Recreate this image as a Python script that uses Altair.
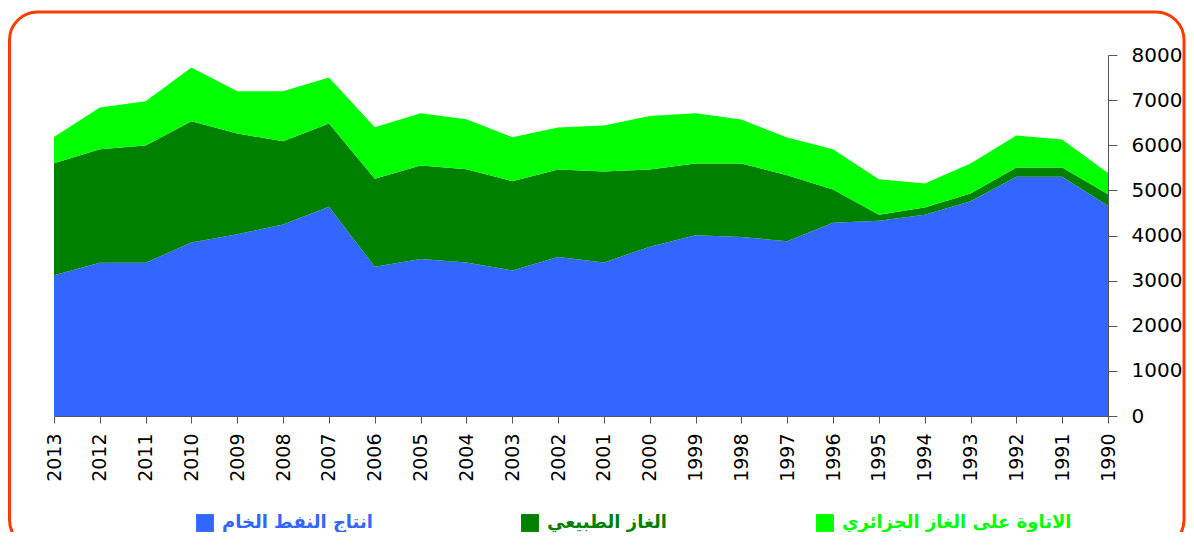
import altair as alt
import pandas as pd

years = [2013, 2012, 2011, 2010, 2009, 2008, 2007, 2006, 2005, 2004, 2003, 2002,
         2001, 2000, 1999, 1998, 1997, 1996, 1995, 1994, 1993, 1992, 1991, 1990]
oil = [3120, 3395, 3395, 3846, 4030, 4244, 4635, 3306, 3477, 3403, 3226, 3521,
       3403, 3750, 4008, 3964, 3875, 4281, 4325, 4458, 4761, 5300, 5300, 4657]
gas = [2480, 2517, 2599, 2686, 2230, 1845, 1846, 1949, 2074, 2066, 1978, 1941,
       2015, 1712, 1587, 1631, 1462, 738, 133, 163, 170, 207, 207, 259]
royalty = [585, 924, 981, 1189, 937, 1108, 1019, 1145, 1159, 1108, 974, 931,
           1018, 1188, 1114, 975, 834, 893, 790, 531, 664, 708, 620, 471]

series = ["انتاج النفط الخام", "الغاز الطبيعي", "الاتاوة على الغاز الجزائري"]
colors = ["#3366FF", "#008000", "#00FF00"]
y_ticks = [0, 1000, 2000, 3000, 4000, 5000, 6000, 7000, 8000]

rows = []
for i, yr in enumerate(years):
    for k, vals in enumerate([oil, gas, royalty]):
        rows.append({"year": yr, "series": series[k], "order": k, "value": vals[i]})
df = pd.DataFrame(rows)

W, H = 1054, 361

label_color_expr = (
    f"datum.value == '{series[0]}' ? '{colors[0]}' : "
    f"datum.value == '{series[1]}' ? '{colors[1]}' : '{colors[2]}'"
)

area = alt.Chart(df).mark_area(opacity=1, interpolate="linear").encode(
    x=alt.X(
        "year:Q",
        scale=alt.Scale(domain=[1990, 2013], reverse=True, nice=False, zero=False),
        axis=alt.Axis(
            values=years, format="d", labelAngle=-90, title=None, grid=False,
            domainColor="#555555", tickColor="#555555", tickSize=7,
            labelPadding=10, labelFontSize=19, labelFont="DejaVu Sans",
            labelColor="#000000",
        ),
    ),
    y=alt.Y(
        "value:Q", stack="zero",
        scale=alt.Scale(domain=[0, 8000], nice=False),
        axis=alt.Axis(
            orient="right", values=y_ticks, format="d", title=None, grid=False,
            domainColor="#555555", tickColor="#555555", tickSize=9,
            labelPadding=14, labelFontSize=20, labelFont="DejaVu Sans",
            labelColor="#000000",
        ),
    ),
    color=alt.Color(
        "series:N",
        scale=alt.Scale(domain=series, range=colors),
        legend=alt.Legend(
            orient="none", legendX=142, legendY=459, direction="horizontal",
            title=None, symbolType="square", symbolSize=320, symbolOpacity=1,
            symbolStrokeWidth=0, labelFontSize=18, labelFontWeight="bold",
            labelFont="DejaVu Sans", labelColor={"expr": label_color_expr},
            columnPadding=148, labelOffset=8, labelLimit=400,
        ),
    ),
    order=alt.Order("order:Q"),
)

frame = alt.Chart(pd.DataFrame({"a": [0]})).mark_rect(
    filled=False, stroke="#FF3C00", strokeWidth=3, cornerRadius=28
).encode(
    x=alt.value(-44.5), x2=alt.value(1130), y=alt.value(-43), y2=alt.value(493)
)

chart = alt.layer(area, frame).properties(
    width=W, height=H,
    padding={"left": 46, "top": 47, "right": 78, "bottom": 116},
    autosize=alt.AutoSizeParams(type="none"),
).configure_view(stroke="transparent")

chart.save("out.html", embed_options={"renderer": "svg", "actions": False})
